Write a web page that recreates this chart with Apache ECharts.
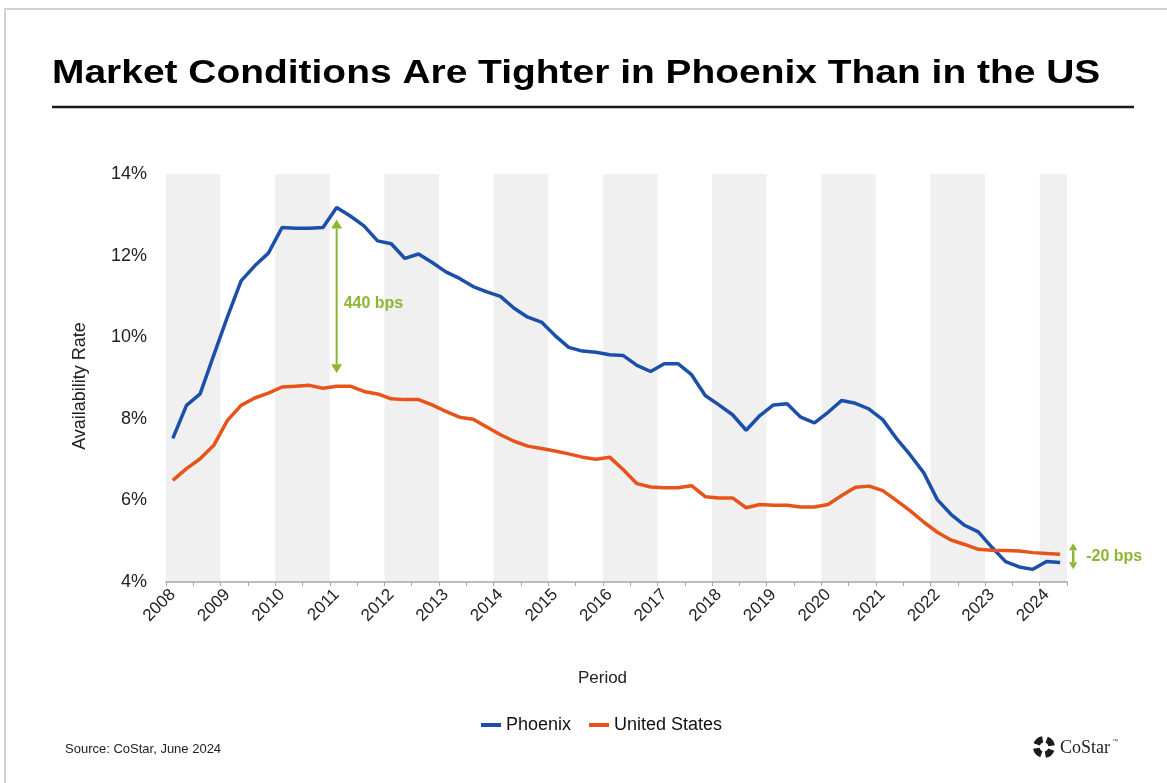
<!DOCTYPE html>
<html>
<head>
<meta charset="utf-8">
<title>Market Conditions Are Tighter in Phoenix Than in the US</title>
<script src="https://cdn.jsdelivr.net/npm/echarts@6.0.0/dist/echarts.min.js"></script>
<style>
  html, body { margin: 0; padding: 0; background: #fff; }
  #main { width: 1167px; height: 783px; }
</style>
</head>
<body>
<div id="main"></div>
<script>
// years on the axis, data is quarterly 2008 Q1 .. 2024 Q2
var years = [2008, 2009, 2010, 2011, 2012, 2013, 2014, 2015, 2016, 2017, 2018, 2019, 2020, 2021, 2022, 2023, 2024];
var lastQuarter = '2024 Q2';

var quarters = [];
for (var i = 0; i < years.length; i++) {
  for (var q = 1; q <= 4; q++) {
    var label = years[i] + ' Q' + q;
    quarters.push(label);
    if (label == lastQuarter) break;
  }
}

// availability rate, %
var phoenix = [
  7.52, 8.33, 8.61, 9.56, 10.50, 11.38, 11.75, 12.06,
  12.69, 12.67, 12.67, 12.69, 13.18, 12.97, 12.73, 12.36,
  12.29, 11.93, 12.04, 11.83, 11.60, 11.44, 11.24, 11.11,
  11.00, 10.71, 10.49, 10.37, 10.04, 9.75, 9.66, 9.63,
  9.57, 9.55, 9.31, 9.16, 9.35, 9.35, 9.08, 8.57,
  8.34, 8.10, 7.72, 8.08, 8.34, 8.37, 8.04, 7.90,
  8.16, 8.45, 8.38, 8.24, 7.98, 7.52, 7.12, 6.68,
  6.02, 5.66, 5.39, 5.23, 4.85, 4.50, 4.37, 4.31,
  4.50, 4.48
];
var unitedStates = [
  6.49, 6.78, 7.02, 7.35, 7.96, 8.33, 8.51, 8.63,
  8.78, 8.80, 8.82, 8.75, 8.80, 8.80, 8.67, 8.61,
  8.49, 8.47, 8.47, 8.34, 8.18, 8.04, 7.99, 7.80,
  7.61, 7.45, 7.33, 7.27, 7.21, 7.14, 7.06, 7.01,
  7.06, 6.75, 6.41, 6.33, 6.31, 6.31, 6.36, 6.09,
  6.06, 6.06, 5.82, 5.90, 5.88, 5.88, 5.84, 5.84,
  5.90, 6.12, 6.32, 6.35, 6.24, 6.00, 5.75, 5.47,
  5.22, 5.03, 4.92, 4.80, 4.78, 4.77, 4.76, 4.72,
  4.70, 4.68
];

var yMin = 4, yMax = 14, yStep = 2;
var peakLabel = '440 bps';
var endLabel = '-20 bps';

var FONT = '"Liberation Sans", Arial, sans-serif';
var BLUE = '#1b4faa';
var ORANGE = '#e8531a';
var GREEN = '#8db634';

// grey bands on the even years
var bands = [];
for (var i = 0; i < years.length; i++) {
  if (years[i] % 2 == 0) {
    bands.push([{ xAxis: years[i] }, { xAxis: Math.min(years[i] + 1, years[years.length - 1] + 0.5) }]);
  }
}

var chart = echarts.init(document.getElementById('main'), null, { renderer: 'canvas' });

var option = {
  backgroundColor: '#fff',
  animation: false,
  grid: { left: 166, right: 100, top: 174, bottom: 201 },
  legend: {
    data: ['Phoenix', 'United States'],
    left: 476,
    top: 711,
    icon: 'rect',
    itemWidth: 20,
    itemHeight: 4,
    itemGap: 18,
    textStyle: { fontFamily: FONT, fontSize: 18, color: '#111' }
  },
  xAxis: [
    {
      // time scale: line + half year ticks
      type: 'value',
      min: years[0],
      max: years[years.length - 1] + 0.5,
      interval: 0.5,
      position: 'bottom',
      z: 10,
      axisLine: { show: true, lineStyle: { color: '#a6a6a6', width: 1.5 } },
      axisTick: { show: true, length: 4, lineStyle: { color: '#a6a6a6' } },
      axisLabel: { show: false },
      splitLine: { show: false }
    },
    {
      // quarter categories for the data, labels on Q1
      type: 'category',
      data: quarters,
      boundaryGap: true,
      position: 'bottom',
      axisLine: { show: false },
      axisTick: { show: false },
      axisLabel: {
        interval: function (index, value) { return value.slice(5) == 'Q1'; },
        formatter: function (value) { return value.slice(0, 4); },
        rotate: 45,
        margin: 10,
        fontFamily: FONT,
        fontSize: 17,
        color: '#222'
      },
      splitLine: { show: false }
    }
  ],
  yAxis: {
    type: 'value',
    min: yMin,
    max: yMax,
    interval: yStep,
    axisLine: { show: false },
    axisTick: { show: false },
    splitLine: { show: false },
    axisLabel: {
      formatter: '{value}%',
      margin: 19,
      fontFamily: FONT,
      fontSize: 18,
      color: '#222'
    }
  },
  series: [
    {
      name: 'bands',
      type: 'line',
      xAxisIndex: 0,
      data: [],
      silent: true,
      z: 1,
      markArea: {
        silent: true,
        itemStyle: { color: '#f0f0f0' },
        data: bands
      }
    },
    {
      name: 'Phoenix',
      type: 'line',
      xAxisIndex: 1,
      data: phoenix,
      showSymbol: false,
      z: 3,
      lineStyle: { color: BLUE, width: 3.5 },
      itemStyle: { color: BLUE }
    },
    {
      name: 'United States',
      type: 'line',
      xAxisIndex: 1,
      data: unitedStates,
      showSymbol: false,
      z: 3,
      lineStyle: { color: ORANGE, width: 3.5 },
      itemStyle: { color: ORANGE }
    }
  ]
};

chart.setOption(option);

// vertical double arrow
function doubleArrow(x, yTop, yBottom, width, head) {
  var hw = head * 0.6;
  return {
    type: 'group',
    z: 20,
    children: [
      { type: 'line', z: 20, shape: { x1: x, y1: yTop + head, x2: x, y2: yBottom - head }, style: { stroke: GREEN, lineWidth: width } },
      { type: 'polygon', z: 20, shape: { points: [[x, yTop], [x - hw, yTop + head], [x + hw, yTop + head]] }, style: { fill: GREEN } },
      { type: 'polygon', z: 20, shape: { points: [[x, yBottom], [x - hw, yBottom - head], [x + hw, yBottom - head]] }, style: { fill: GREEN } }
    ]
  };
}

function toPixel(quarter, value) {
  return chart.convertToPixel({ xAxisIndex: 1, yAxisIndex: 0 }, [quarter, value]);
}

// gap at the Phoenix peak
var peakIdx = 0;
for (var i = 1; i < phoenix.length; i++) {
  if (phoenix[i] > phoenix[peakIdx]) peakIdx = i;
}
var pTop = toPixel(quarters[peakIdx], phoenix[peakIdx]);
var pBot = toPixel(quarters[peakIdx], unitedStates[peakIdx]);
var a1Top = pTop[1] + 12, a1Bot = pBot[1] - 13;

// gap at the latest quarter
var last = quarters.length - 1;
var eP = toPixel(quarters[last], phoenix[last]);
var eU = toPixel(quarters[last], unitedStates[last]);
var eMid = (eP[1] + eU[1]) / 2 - 2;
var eX = eP[0] + 13;

var plotMid = chart.convertToPixel({ xAxisIndex: 0 }, (years[0] + years[years.length - 1] + 0.5) / 2);

chart.setOption({
  graphic: [
    // frame
    { type: 'polyline', z: 20, shape: { points: [[5, 783], [5, 9], [1167, 9]] }, style: { stroke: '#c4c4c4', lineWidth: 1.5, fill: null }, silent: true },
    {
      type: 'text', z: 20, x: 52, y: 73.5, scaleX: 1.145, originX: 0, originY: 0,
      style: {
        text: 'Market Conditions Are Tighter in Phoenix Than in the US',
        x: 0, y: 0,
        font: 'bold 34px ' + FONT,
        fill: '#000',
        verticalAlign: 'middle'
      }
    },
    { type: 'line', z: 20, shape: { x1: 52, y1: 107, x2: 1134, y2: 107 }, style: { stroke: '#1a1a1a', lineWidth: 2.5 } },
    {
      type: 'text', z: 20, x: 80, y: 386, rotation: Math.PI / 2,
      style: { text: 'Availability Rate', font: '18px ' + FONT, fill: '#222', align: 'center', verticalAlign: 'middle' }
    },
    {
      type: 'text', z: 20, x: plotMid - 14, y: 678,
      style: { text: 'Period', font: '17px ' + FONT, fill: '#222', align: 'center', verticalAlign: 'middle' }
    },
    doubleArrow(pTop[0], a1Top, a1Bot, 2, 9),
    {
      type: 'text', z: 20, x: pTop[0] + 7, y: a1Top + (a1Bot - a1Top) * 0.55,
      style: { text: peakLabel, font: 'bold 16px ' + FONT, fill: GREEN, verticalAlign: 'middle' }
    },
    doubleArrow(eX, eMid - 13, eMid + 13, 2.5, 7),
    {
      type: 'text', z: 20, x: eX + 13, y: eMid,
      style: { text: endLabel, font: 'bold 16px ' + FONT, fill: GREEN, verticalAlign: 'middle' }
    },
    {
      type: 'text', z: 20, x: 65, y: 749,
      style: { text: 'Source: CoStar, June 2024', font: '13px ' + FONT, fill: '#222', verticalAlign: 'middle' }
    },
    // CoStar mark
    {
      type: 'group', z: 20, x: 1044, y: 747,
      children: [0, 1, 2, 3].map(function (k) {
        var a = k * Math.PI / 2 + 0.35;
        return { type: 'sector', z: 20, shape: { cx: 0, cy: 0, r: 11, r0: 4.5, startAngle: a, endAngle: a + 1.05 }, style: { fill: '#1c1c1c' } };
      })
    },
    {
      type: 'text', z: 20, x: 1060, y: 748,
      style: { text: 'CoStar', font: '18px "Liberation Serif", serif', fill: '#222', verticalAlign: 'middle' }
    },
    {
      type: 'text', z: 20, x: 1112, y: 741,
      style: { text: '™', font: '6px ' + FONT, fill: '#444', verticalAlign: 'middle' }
    }
  ]
});
</script>
</body>
</html>
